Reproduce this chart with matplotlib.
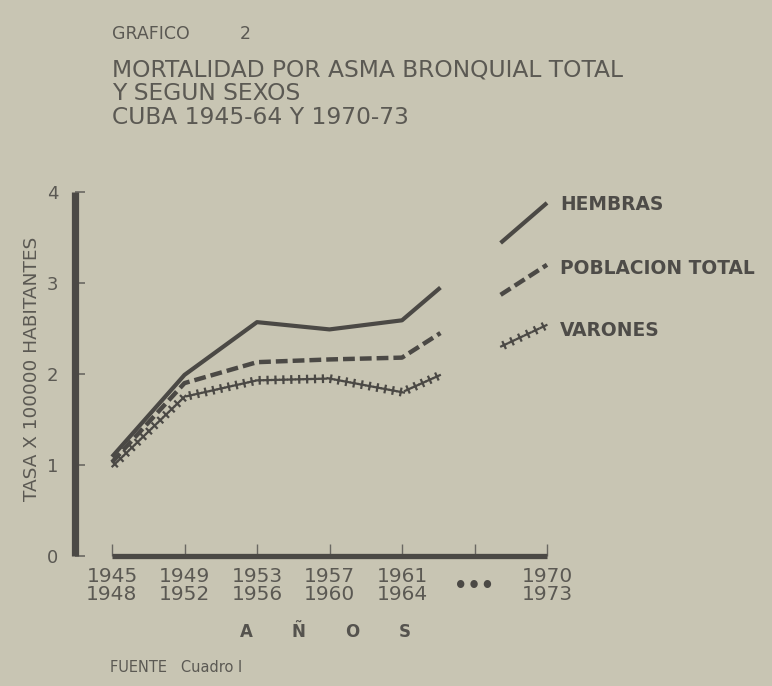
import matplotlib
matplotlib.use('Agg')
import matplotlib.pyplot as plt
from matplotlib import patheffects as pe

# ---------------- data ----------------
labels_top = ['1945', '1949', '1953', '1957', '1961', '', '1970']
labels_bot = ['1948', '1952', '1956', '1960', '1964', '', '1973']
# category positions: 0..4 = 1945-48 ... 1961-64, 5 = gap (...), 6 = 1970-73
# 4.53 and 5.36 are where the drawn segments stop/restart around the gap
x_first = [0, 1, 2, 3, 4, 4.53]
x_second = [5.36, 6]
hembras_1 = [1.09, 1.99, 2.57, 2.49, 2.59, 2.95]
hembras_2 = [3.44, 3.88]
total_1 = [1.03, 1.90, 2.13, 2.16, 2.18, 2.45]
total_2 = [2.87, 3.20]
varones_1 = [0.98, 1.75, 1.93, 1.95, 1.80, 1.99]
varones_2 = [2.30, 2.54]
yticks = [0, 1, 2, 3, 4]
series_names = ['HEMBRAS', 'POBLACION TOTAL', 'VARONES']

# ---------------- style ----------------
BG = '#c8c5b3'
INK = '#4b4945'
TXT = '#5b5953'
W, H = 772, 686
fig = plt.figure(figsize=(W / 100, H / 100), dpi=100, facecolor=BG)
plt.rcParams['font.family'] = ['DejaVu Sans']
plt.rcParams['lines.scale_dashes'] = False

def fx(px):
    return px / W

def fy(py):
    return 1 - py / H

ax_l, ax_r, ax_t, ax_b = 75, 560, 192, 556
ax = fig.add_axes([fx(ax_l), fy(ax_b), (ax_r - ax_l) / W, (ax_b - ax_t) / H])
ax.set_facecolor('none')
scale = 72.5
ax.set_xlim(-(112 - ax_l) / scale, (ax_r - 112) / scale)
ax.set_ylim(0, 4)

for s in ['top', 'right', 'bottom']:
    ax.spines[s].set_visible(False)
ax.spines['left'].set_linewidth(5.2)
ax.spines['left'].set_color(INK)
ax.spines['left'].set_capstyle('butt')

ax.set_yticks(yticks)
ax.set_yticklabels([str(v) for v in yticks])
ax.tick_params(axis='y', direction='in', length=7, width=1.2, color='#6a6862',
               labelsize=13, labelcolor=TXT, pad=12)

ax.set_xticks(range(len(labels_top)))
ax.set_xticklabels([f'{a}\n{b}' if a else '' for a, b in zip(labels_top, labels_bot)])
ax.tick_params(axis='x', direction='in', length=9, width=1.0, color='#6a6862',
               labelsize=14.5, labelcolor=TXT, pad=8)
for t in ax.get_xticklabels():
    t.set_linespacing(0.95)

# x axis bar
ax.plot([0, len(labels_top) - 1], [0, 0], color=INK, lw=3.8, solid_capstyle='butt',
        clip_on=False, zorder=3)

# series
for xs, ys in [(x_first, hembras_1), (x_second, hembras_2)]:
    ax.plot(xs, ys, color=INK, lw=3.0, solid_capstyle='butt', solid_joinstyle='round',
            clip_on=False)
for xs, ys in [(x_first, total_1), (x_second, total_2)]:
    ax.plot(xs, ys, color=INK, lw=3.2, linestyle=(0, (8.5, 3.6)),
            dash_capstyle='butt', clip_on=False)
cross = [pe.TickedStroke(spacing=5.6, angle=a, length=0.42, linewidth=1.6,
                         foreground=INK) for a in (0, 90, 180, -90)]
for xs, ys in [(x_first, varones_1), (x_second, varones_2)]:
    ax.plot(xs, ys, color=INK, lw=1.0, path_effects=cross, clip_on=False)

# gap marker
ax.text(5, -0.33, '•••', ha='center', va='center', fontsize=15, fontweight='bold',
        color=INK)

# legend labels
for name, py in zip(series_names, [205, 268, 330]):
    fig.text(fx(560), fy(py), name, ha='left', va='center', fontsize=13.4,
             fontweight='bold', color='#4e4c48')

# axis labels
fig.text(fx(32), fy(369), 'TASA X 100000 HABITANTES', rotation=90, ha='center',
         va='center', fontsize=13.3, color=TXT)
for ch, px in zip(['A', 'Ñ', 'O', 'S'], [246, 298, 352, 405]):
    fig.text(fx(px), fy(632), ch, ha='center', va='center', fontsize=12,
             fontweight='bold', color='#55534e')

# titles
fig.text(fx(112), fy(34), 'GRAFICO', ha='left', va='center', fontsize=12.5, color=TXT)
fig.text(fx(245), fy(34), '2', ha='center', va='center', fontsize=12.5, color=TXT)
for line, py in zip(['MORTALIDAD POR ASMA BRONQUIAL TOTAL', 'Y SEGUN SEXOS',
                     'CUBA 1945-64 Y 1970-73'], [70, 94, 117]):
    fig.text(fx(112), fy(py), line, ha='left', va='center', fontsize=16.8, color=TXT)

fig.text(fx(110), fy(667), 'FUENTE   Cuadro I', ha='left', va='center', fontsize=10.5,
         color=TXT)

fig.savefig('out.png', dpi=100, facecolor=BG)
